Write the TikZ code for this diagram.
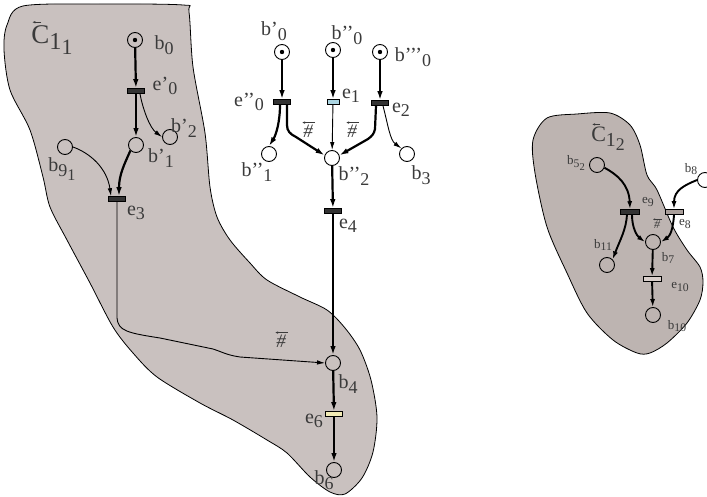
\documentclass[tikz,border=0pt]{standalone}
\usepackage{fontspec}
\setmainfont{Liberation Serif}
\usetikzlibrary{arrows.meta}
\definecolor{regionfill}{HTML}{C9C1BF}
\definecolor{regiondark}{HTML}{BDB4B1}
\definecolor{trdark}{HTML}{333333}
\definecolor{trblue}{HTML}{ABD5E2}
\definecolor{tryellow}{HTML}{F2EBB5}
\definecolor{trgrey}{HTML}{A99E9A}
\definecolor{trlight}{HTML}{D9CFCB}
\definecolor{lbltext}{HTML}{3A3A3A}
\newcommand{\dsub}[1]{\raisebox{-0.22em}{\scalebox{0.9}{#1}}}

\begin{document}
\begin{tikzpicture}[x=1pt,y=-1pt,
  place/.style={draw, circle, line width=0.9pt, minimum size=15pt, inner sep=0pt},
  marked/.style={place, path picture={\fill (path picture bounding box.center) circle (2.2pt);}},
  trans/.style={draw, line width=0.6pt, minimum width=17pt, minimum height=5pt, inner sep=0pt, fill=trdark},
  lbl/.style={text=lbltext, font=\fontsize{20}{22}\selectfont, inner sep=0pt},
  slbl/.style={text=lbltext, font=\fontsize{13}{15}\selectfont, inner sep=0pt},
  hashlbl/.style={lbl, font=\fontsize{19}{21}\selectfont\itshape},
  overarrow/.style={draw=lbltext, line width=0.6pt, -{Latex[length=3pt,width=2.5pt]}},
  flow/.style={line width=2.2pt, -{Latex[length=9pt,width=5.5pt]}},
  sflow/.style={line width=1.9pt, -{Latex[length=8pt,width=5pt]}},
  thinflow/.style={line width=0.9pt, -{Latex[length=8pt,width=4.5pt]}},
  region/.style={draw, line width=0.8pt}]
\useasboundingbox (0,0) rectangle (707,497);

\draw[region, fill=regionfill] plot[smooth cycle, tension=0.5] coordinates {
  (23,6) (100,4) (183,5) (189,12) (193,67) (205,133) (210,187) (217,217)
  (230,240) (250,263) (267,280) (300,297) (327,310) (345,328) (360,350)
  (371,380) (377,417) (373,452) (362,478) (345,494) (330,492) (310,477)
  (287,453) (267,440) (233,420) (200,403) (157,377) (133,353) (113,327)
  (90,283) (67,240) (50,207) (43,177) (30,130) (10,90) (4,50) (7,25)};
\draw[region, fill=regiondark] plot[smooth cycle, tension=0.5] coordinates {
  (547,118) (577,114) (610,113) (630,125) (640,145) (647,175) (657,190)
  (673,227) (687,250) (700,267) (703,282) (700,300) (687,323) (667,343)
  (650,353) (637,353) (613,340) (587,313) (567,273) (547,227) (535,173)
  (533,140)};

\node[marked] (b0) at (135,40) {};
\node[trans] (ep0) at (136,91) {};
\node[place] (bp1) at (136,145) {};
\node[place] (bp2) at (170,137) {};
\node[place] (b91) at (65,147) {};
\node[trans] (e3) at (117,199) {};

\node[marked] (bq0) at (282,52) {};
\node[marked] (bpp0) at (333,50) {};
\node[marked] (bppp0) at (380,52) {};
\node[trans] (epp0) at (282,102) {};
\node[trans, minimum width=12pt, fill=trblue] (e1) at (333,102) {};
\node[trans] (e2) at (380,103) {};
\node[place] (bpp1) at (269,154) {};
\node[place] (bpp2) at (332,158) {};
\node[place] (b3) at (407,154) {};
\node[trans] (e4) at (333,211) {};
\node[place] (b4) at (333,363) {};
\node[trans, fill=tryellow] (e6) at (334,414) {};
\node[place] (b6) at (334,470) {};

\node[place] (b52) at (597,165) {};
\node[trans, minimum width=19pt] (e9) at (630,212) {};
\node[place] (b8) at (705,180) {};
\node[trans, minimum width=18pt, fill=trgrey] (e8) at (674,212) {};
\node[place] (b11) at (607,265) {};
\node[place] (b7) at (653,242) {};
\node[trans, minimum width=18pt, fill=trlight] (e10) at (652,279) {};
\node[place] (b10) at (653,315) {};

\node[lbl, font=\fontsize{27}{29}\selectfont] (c11) at (52,40) {C\dsub{1\dsub{1}}};
\node[lbl] (lb0) at (164,45) {b\dsub{0}};
\node[lbl] (lep0) at (165,86) {e’\dsub{0}};
\node[lbl] (lbp2) at (184,128) {b’\dsub{2}};
\node[lbl] (lbp1) at (161,158) {b’\dsub{1}};
\node[lbl] (lb91) at (62,169) {b\dsub{9\dsub{1}}};
\node[lbl] (le3) at (136,213) {e\dsub{3}};

\node[lbl] (lbq0) at (274,31) {b’\dsub{0}};
\node[lbl] (lbpp0) at (347,35) {b’’\dsub{0}};
\node[lbl] (lbppp0) at (413,57) {b’’’\dsub{0}};
\node[lbl] (lepp0) at (249,102) {e’’\dsub{0}};
\node[lbl] (le1) at (351,96) {e\dsub{1}};
\node[lbl] (le2) at (401,110) {e\dsub{2}};
\node[lbl] (lbpp1) at (257,172) {b’’\dsub{1}};
\node[lbl] (lbpp2) at (354,176) {b’’\dsub{2}};
\node[lbl] (lb3) at (421,175) {b\dsub{3}};
\node[lbl] (le4) at (348,226) {e\dsub{4}};
\node[hashlbl] (hash1) at (308,131) {\#};
\node[hashlbl] (hash2) at (352,131) {\#};
\node[hashlbl] (hash3) at (281,341) {\#};
\node[lbl] (lb4) at (348,384) {b\dsub{4}};
\node[lbl] (le6) at (314,421) {e\dsub{6}};
\node[lbl] (lb6) at (324,480) {b\dsub{6}};

\node[slbl, font=\fontsize{22}{24}\selectfont] (c12) at (608,139) {C\dsub{1\dsub{2}}};
\node[slbl] (lb52) at (576,163) {b\dsub{5\dsub{2}}};
\node[slbl] (le9) at (648,202) {e\dsub{9}};
\node[slbl] (le8) at (685,224) {e\dsub{8}};
\node[slbl] (lb8) at (691,169) {b\dsub{8}};
\node[slbl] (lb11) at (603,245) {b\dsub{11}};
\node[slbl] (lb7) at (668,258) {b\dsub{7}};
\node[slbl] (le10) at (680,287) {e\dsub{10}};
\node[slbl] (lb10) at (677,326) {b\dsub{10}};
\node[slbl, font=\fontsize{12}{14}\selectfont\itshape] (hash4) at (657,225) {\#};

\draw[overarrow] ([xshift=10pt,yshift=3pt]c11.north west) -- ([xshift=1pt,yshift=3pt]c11.north west);
\draw[overarrow] ([xshift=9pt,yshift=2.5pt]c12.north west) -- ([xshift=1pt,yshift=2.5pt]c12.north west);
\draw[overarrow] ([xshift=7pt,yshift=2pt]hash1.north) -- ([xshift=-6pt,yshift=2pt]hash1.north);
\draw[overarrow] ([xshift=7pt,yshift=2pt]hash2.north) -- ([xshift=-6pt,yshift=2pt]hash2.north);
\draw[overarrow] ([xshift=7pt,yshift=2pt]hash3.north) -- ([xshift=-6pt,yshift=2pt]hash3.north);
\draw[overarrow, line width=0.4pt, -{Latex[length=2pt,width=2pt]}] ([xshift=5pt,yshift=1.5pt]hash4.north) -- ([xshift=-4pt,yshift=1.5pt]hash4.north);

\draw[flow] (b0) -- (ep0);
\draw[flow] (ep0) -- (bp1);
\draw[thinflow] ([xshift=4pt]ep0.south) .. controls (143,110) and (150,128) .. (bp2.west);
\draw[flow] (bp1.south west) .. controls (124,165) and (119,175) .. ([xshift=2pt]e3.north);
\draw[thinflow] (b91.east) .. controls (90,153) and (107,168) .. ([xshift=-6pt]e3.north);
\draw[thinflow] (e3.south) -- (117,318) .. controls (118,331) and (128,333) .. (160,338)
  -- (213,349) .. controls (220,351) and (226,355) .. (240,357) -- (b4.west);

\draw[flow] (bq0) -- (epp0);
\draw[flow] (bpp0) -- (e1);
\draw[flow] (bppp0) -- (e2);
\draw[flow] ([xshift=-2pt]epp0.south) .. controls (280,122) and (276,135) .. (bpp1.north);
\draw[flow] ([xshift=5pt]epp0.south) -- (287,125) .. controls (287,131) and (290,134) .. (296,137) -- (bpp2.160);
\draw[thinflow] (e1) -- (bpp2);
\draw[flow] ([xshift=-4pt]e2.south) -- (375,129) .. controls (374,134) and (372,136) .. (368,139) -- (bpp2.20);
\draw[thinflow] ([xshift=3pt]e2.south) .. controls (388,125) and (390,140) .. (b3.north west);
\draw[flow] (bpp2) -- (e4);
\draw[flow] (e4) -- (b4);
\draw[flow] (b4) -- (e6);
\draw[flow] (e6) -- (b6);

\draw[sflow] (b52.-20) .. controls (618,175) and (629,185) .. (e9.north);
\draw[sflow] (b8.west) .. controls (685,185) and (674,190) .. (e8.north);
\draw[sflow] ([xshift=-3pt]e9.south) .. controls (626,230) and (620,240) .. (b11.north east);
\draw[sflow] ([xshift=2pt]e9.south) .. controls (632,228) and (637,236) .. (b7.west);
\draw[sflow] (e8.south) .. controls (673,230) and (670,236) .. (b7.east);
\draw[sflow] (b7) -- (e10);
\draw[sflow] (e10) -- (b10);
\end{tikzpicture}
\end{document}
